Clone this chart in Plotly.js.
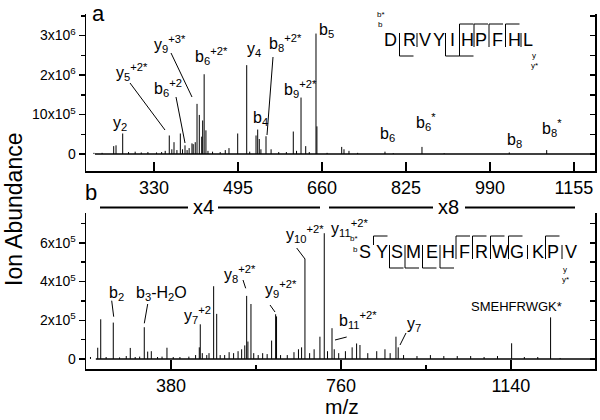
<!DOCTYPE html>
<html>
<head>
<meta charset="utf-8">
<script src="https://cdn.plot.ly/plotly-3.0.1.min.js"></script>
<style>body{margin:0;background:#fff;} #plot{width:600px;height:420px;}</style>
</head>
<body>
<div id="plot"></div>
<script>
// panel a: DRVYIHPFHL spectrum, m/z and ion abundance
var mzA = [212,228,250.8,255.4,268.5,280,293,305,318,335,345,352,360,365,369.3,375,381.7,386,390.9,395,399,404.6,407,411,414.5,419,423.7,425.6,428.5,432,436,445,460,470,477.3,494.4,512.1,518,530.4,533.7,536.8,540,550,560,575,590,603.6,610,618.8,628,635,648.2,650,670,698.7,703.2,713,730,783.7,800,856.4,900,1027.9,1101.4];
var abA = [0.03,0.03,0.2,0.22,0.52,0.05,0.06,0.04,0.05,0.04,0.05,0.08,0.47,0.12,0.3,0.1,0.52,0.12,0.22,0.1,0.15,0.27,0.25,0.3,1.27,0.99,0.44,0.85,2.02,0.6,0.08,0.06,0.05,0.1,0.15,0.52,2.25,0.06,0.47,0.62,0.38,0.12,0.45,0.12,0.05,0.05,0.57,0.08,1.43,0.2,0.05,3.05,0.7,0.03,0.18,0.12,0.08,0.03,0.06,0.02,0.18,0.02,0.04,0.1].map(function(v){return v*1e6;});
// panel b: SYSMEHFRWGKPV spectrum
var mzB = [200,216.2,222.9,235,251,265,280,289,300,310,320.3,327.9,336,350,360,371,385,400,420,435,443.3,445.5,450,460,465,475.4,482.2,490,500,510,520,530,538,545,549.2,552,558.8,565,575,585,595,605,614,616,625,640,655,665,672,679.5,690,700,713,722.7,730,740,745,755,770,785,795,802.5,820,840,858.4,870,883,888,900,930,960,990,1020,1050,1080,1110,1141.6,1170,1200,1228.7,1250];
var abB = [0.1,0.58,2.05,0.1,1.88,0.08,0.15,0.57,0.1,0.12,1.64,0.38,0.4,0.1,0.12,0.58,0.1,0.1,0.12,0.2,0.6,1.79,0.3,0.2,0.3,3.76,2.33,0.2,0.2,0.35,0.3,0.4,0.5,0.7,3.26,0.9,2.84,0.3,0.2,0.3,0.25,0.95,2.31,2.2,0.2,0.2,0.35,0.5,0.6,5.17,0.3,0.5,1.15,6.5,0.4,1.59,0.5,0.3,0.4,0.6,0.8,0.72,0.3,0.4,0.5,0.3,1.15,0.6,0.2,0.15,0.2,0.15,0.15,0.15,0.1,0.15,0.81,0.1,0.1,2.15,0.05].map(function(v){return v*1e5;});
var baseA = [214, 1196];
var baseB = [212, 1328];

var ticksA = [330,495,660,825,990,1155];
var ticksB = [380,760,1140];
var minorB = [570,950];
var yTickA = [0,1e6,2e6,3e6];
var yTextA = ["0","10x10<sup>5</sup>","2x10<sup>6</sup>","3x10<sup>6</sup>"];
var yMinorA = [0.5e6,1.5e6,2.5e6,3.5e6];
var yTickB = [0,2e5,4e5,6e5];
var yTextB = ["0","2x10<sup>5</sup>","4x10<sup>5</sup>","6x10<sup>5</sup>"];
var yMinorB = [1e5,3e5,5e5,7e5];
var yAllA = [0,0.5e6,1e6,1.5e6,2e6,2.5e6,3e6,3.5e6];
var yAllB = [0,1e5,2e5,3e5,4e5,5e5,6e5,7e5];

var seqA = ["D","R","V","Y","I","H","P","F","H","L"];
var seqB = ["S","Y","S","M","E","H","F","R","W","G","K","P","V"];

function sticks(mz, ab){
  var x=[], y=[];
  for (var i=0;i<mz.length;i++){ x.push(mz[i],mz[i],null); y.push(0,ab[i],null); }
  return {x:x, y:y};
}
var sA = sticks(mzA, abA), sB = sticks(mzB, abB);
var ln = {color:'black', width:1};
var data = [
  {x:sA.x, y:sA.y, xaxis:'x', yaxis:'y', mode:'lines', line:ln, hoverinfo:'skip'},
  {x:baseA, y:[0,0], xaxis:'x', yaxis:'y', mode:'lines', line:{color:'black',width:1.5}},
  {x:sB.x, y:sB.y, xaxis:'x2', yaxis:'y2', mode:'lines', line:ln, hoverinfo:'skip'},
  {x:baseB, y:[0,0], xaxis:'x2', yaxis:'y2', mode:'lines', line:{color:'black',width:1.5}},
  {x:[null], y:[null], xaxis:'x', yaxis:'y3', mode:'lines'},
  {x:[null], y:[null], xaxis:'x2', yaxis:'y4', mode:'lines'}
];

// pixel -> paper helpers
function px(x){ return (x-86)/509; }
function py(y){ return (369-y)/355; }
var FONT = 'Liberation Sans, Arial, sans-serif';
var ann = [], shp = [];
function lab(t, x, y, size, xa){
  ann.push({text:t, x:px(x), y:py(y), xref:'paper', yref:'paper', showarrow:false, borderpad:0,
    xanchor:xa||'left', yanchor:'middle', font:{family:FONT, size:size||16, color:'black'}});
}
function seg(x0,y0,x1,y1,w){
  shp.push({type:'line', xref:'paper', yref:'paper', x0:px(x0), y0:py(y0), x1:px(x1), y1:py(y1),
    line:{color:'black', width:w||1}});
}

// peak labels, panel a
lab("y<sub>2</sub>",112,123);
lab("y<sub>5</sub><sup>+2*</sup>",115,72);
lab("b<sub>6</sub><sup>+2</sup>",153,88);
lab("y<sub>9</sub><sup>+3*</sup>",153,44);
lab("b<sub>6</sub><sup>+2*</sup>",194,56);
lab("y<sub>4</sub>",246,50);
lab("b<sub>4</sub>",252,118);
lab("b<sub>8</sub><sup>+2*</sup>",268,43);
lab("b<sub>9</sub><sup>+2*</sup>",283,89);
lab("b<sub>5</sub>",318,30);
lab("b<sub>6</sub>",379,134);
lab("b<sub>6</sub><sup>*</sup>",415,122);
lab("b<sub>8</sub>",506,140);
lab("b<sub>8</sub><sup>*</sup>",541,128);
seg(130,83,165,130); seg(176,97,185,143); seg(171,53,192,97); seg(273,57,267,135);

// peak labels, panel b
lab("b<sub>2</sub>",108,293);
lab("b<sub>3</sub>-H<sub>2</sub>O",135,293);
lab("y<sub>7</sub><sup>+2</sup>",183,315);
lab("y<sub>8</sub><sup>+2*</sup>",223,274);
lab("y<sub>9</sub><sup>+2*</sup>",264,289);
lab("y<sub>10</sub><sup>+2*</sup>",285,234);
lab("y<sub>11</sub><sup>+2*</sup>",330,228);
lab("b<sub>11</sub><sup>+2*</sup>",338,320);
lab("y<sub>7</sub>",406,324);
lab("SMEHFRWGK*",470,306,13);
seg(111.7,300.7,113.7,316.7); seg(147.7,304,144.3,323.3); seg(243,280,245.7,288.3);
seg(270,305,275,312); seg(296.7,248,305,259); seg(346.7,337,335,340); seg(406,333,400,345);

// sequence with fragment brackets
function sequence(letters, cx, top, bot, vlines, bTails, yTails){
  for (var i=0;i<letters.length;i++) lab(letters[i], cx[i], (top+bot)/2, 18, 'center');
  vlines.forEach(function(k){ var xb=(cx[k-1]+cx[k])/2; seg(xb,top,xb,bot); });
  bTails.forEach(function(k){ var xb=(cx[k-1]+cx[k])/2; seg(xb,bot,xb,bot+9); seg(xb,bot+9,xb+14,bot+9); });
  yTails.forEach(function(k){ var xb=(cx[k-1]+cx[k])/2; seg(xb,top,xb,top-9); seg(xb,top-9,xb+14,top-9); });
}
sequence(seqA,[390,409,425,439,452,467,481,497,514,528],33,47,[1,2,4,5,6,7,8,9],[1,4,5],[5,6,7,8]);
lab("b*",376,14,8); lab("b",377,25,8); lab("y",531,56,8); lab("y*",530,65,8);
sequence(seqB,[365,382,397,413,432,448,464,481,500,517,538,553,571],245,259,[2,3,4,5,6,7,8,9,10,11,12],[2,3,4,5],[1,6,7,8,9,11]);
lab("b*",349,238,8); lab("b",352,249,8); lab("y",562,269,8); lab("y*",561,279,8);

// panel letters, scale markers, titles
lab("a",98,13,22,'center');
lab("b",91,192,22,'center');
seg(100,207.5,188,207.5,2); seg(218,207.5,320,207.5,2);
seg(329,207.5,433,207.5,2); seg(465,207.5,575,207.5,2);
lab("x4",203,207,20,'center'); lab("x8",448,207,20,'center');
lab("m/z",342,406,21,'center');
ann.push({text:"Ion Abundance", x:px(14), y:py(210), xref:'paper', yref:'paper', showarrow:false,
  textangle:-90, xanchor:'center', yanchor:'middle', font:{family:FONT, size:23, color:'black'}});

var axBase = {showline:true, linecolor:'black', linewidth:1.5, showgrid:false, zeroline:false,
  tickcolor:'black', tickwidth:1.5, tickfont:{family:FONT, color:'black'}};
function ax(o){ return Object.assign({}, axBase, o); }

var layout = {
  width:600, height:420, paper_bgcolor:'white', plot_bgcolor:'white', showlegend:false,
  margin:{l:86, r:5, t:14, b:51},
  font:{family:FONT, color:'black'},
  xaxis: ax({domain:[0,1], anchor:'y', range:[196.4,1196.3], tickmode:'array', tickvals:ticksA,
    ticks:'inside', ticklen:9, tickfont:{family:FONT,size:18,color:'black'}}),
  yaxis: ax({domain:[0.5577,1], anchor:'x', range:[-0.43e6,3.545e6], tickmode:'array', tickvals:yTickA, ticktext:yTextA,
    ticks:'outside', ticklen:6, tickfont:{family:FONT,size:14,color:'black'},
    minor:{tickmode:'array', tickvals:yMinorA, ticks:'outside', ticklen:4, tickcolor:'black', tickwidth:1.5}}),
  yaxis3: ax({overlaying:'y', side:'right', anchor:'x', range:[-0.43e6,3.545e6], tickmode:'array', tickvals:yAllA,
    ticks:'inside', ticklen:5, showticklabels:false}),
  xaxis2: ax({domain:[0,1], anchor:'y2', range:[190,1328], tickmode:'array', tickvals:ticksB,
    ticks:'inside', ticklen:9, tickfont:{family:FONT,size:18,color:'black'},
    minor:{tickmode:'array', tickvals:minorB, ticks:'inside', ticklen:4, tickcolor:'black', tickwidth:1.5}}),
  yaxis2: ax({domain:[0,0.4394], anchor:'x2', range:[-0.52e5,7.545e5], tickmode:'array', tickvals:yTickB, ticktext:yTextB,
    ticks:'outside', ticklen:6, tickfont:{family:FONT,size:14,color:'black'},
    minor:{tickmode:'array', tickvals:yMinorB, ticks:'outside', ticklen:4, tickcolor:'black', tickwidth:1.5}}),
  yaxis4: ax({overlaying:'y2', side:'right', anchor:'x2', range:[-0.52e5,7.545e5], tickmode:'array', tickvals:yAllB,
    ticks:'inside', ticklen:5, showticklabels:false}),
  annotations: ann,
  shapes: shp
};
Plotly.newPlot('plot', data, layout, {staticPlot:true});
</script>
</body>
</html>
